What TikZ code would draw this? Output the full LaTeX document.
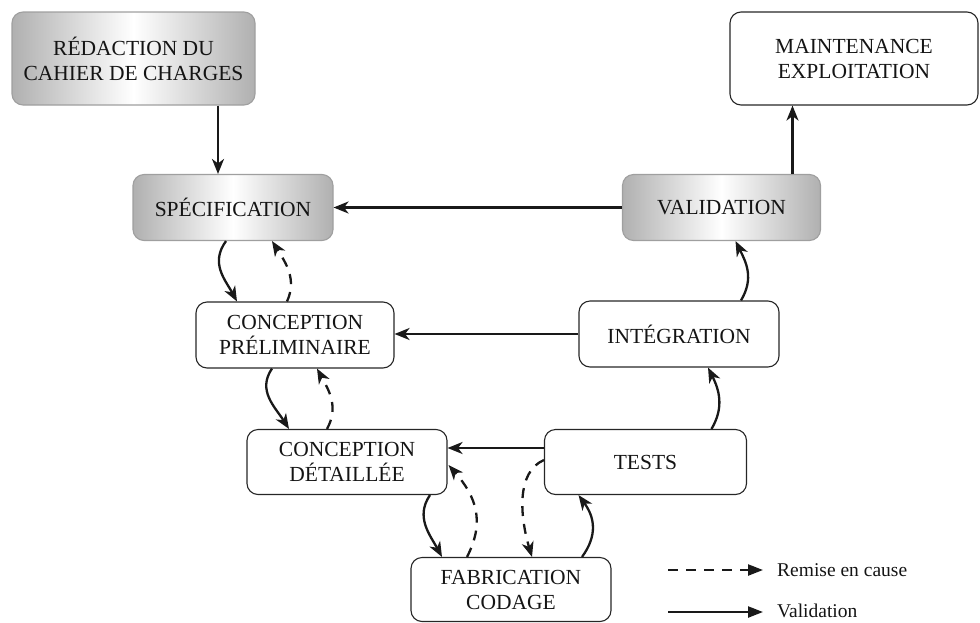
\documentclass[tikz,border=0pt]{standalone}
\usepackage{fontspec}
\setmainfont{Liberation Serif}
\newfontfamily\phasefont{Liberation Serif}
\usetikzlibrary{arrows.meta,calc}

\begin{document}
\begin{tikzpicture}[x=1pt,y=-1pt,
  box/.style={draw=black!85, line width=1.1pt, rounded corners=11pt,
    align=center, text=black!92, inner sep=0pt,
    font=\phasefont\fontsize{21.5}{25}\selectfont},
  shadedbox/.style={box, draw=gray!75,
    left color=gray!62, right color=gray!62, middle color=white},
  flow/.style={line width=2.3pt, draw=black!90,
    -{Stealth[length=15pt,width=12pt,inset=4.5pt]}},
  back/.style={flow, dash pattern=on 10pt off 8pt},
  legflow/.style={line width=2.3pt, draw=black!90,
    -{Triangle[length=15pt,width=11pt]}},
  legtext/.style={anchor=west, inner sep=0pt, text=black!92,
    font=\phasefont\fontsize{19.5}{23}\selectfont},
]
\useasboundingbox (0,0) rectangle (980,622);

% phases of the cycle
\node[shadedbox, minimum width=243pt, minimum height=93pt] (redac) at (133.5,58.5)
  {RÉDACTION DU\\CAHIER DE CHARGES};
\node[box, minimum width=248pt, minimum height=93pt] (maint) at (854,58.5)
  {MAINTENANCE\\EXPLOITATION};
\node[shadedbox, minimum width=200pt, minimum height=66pt] (spec) at (233,207.5)
  {SPÉCIFICATION};
\node[shadedbox, minimum width=198pt, minimum height=66pt] (valid) at (721.5,207.5)
  {VALIDATION};
\node[box, minimum width=198pt, minimum height=66pt] (cprel) at (295,335)
  {CONCEPTION\\PRÉLIMINAIRE};
\node[box, minimum width=200pt, minimum height=66pt] (integ) at (679,334)
  {INTÉGRATION};
\node[box, minimum width=200pt, minimum height=65pt] (cdet) at (347,462)
  {CONCEPTION\\DÉTAILLÉE};
\node[box, minimum width=202pt, minimum height=65pt] (tests) at (645.5,462)
  {TESTS};
\node[box, minimum width=200pt, minimum height=64pt] (fab) at (511,589.5)
  {FABRICATION\\CODAGE};

% straight validation links
\coordinate (a1) at ($(spec.north)+(-15,0)$);
\draw[flow] (a1 |- redac.south) -- (a1);
\coordinate (a2) at ($(valid.north)+(71,0)$);
\draw[flow] (a2) -- (a2 |- maint.south);
\draw[flow] (valid.west) -- (spec.east);
\draw[flow] (integ.west) -- (integ.west -| cprel.east);
\coordinate (a3) at ($(tests.west)+(0,-14)$);
\draw[flow] (a3) -- (a3 -| cdet.east);

% descending branch
\draw[flow] ($(spec.south)+(-7,0)$) .. controls +(-16,22) and +(-12,-22) .. ($(cprel.north)+(-58,0)$);
\draw[back] ($(cprel.north)+(-8,0)$) .. controls +(10,-22) and +(14,22) .. ($(spec.south)+(39,0)$);
\draw[flow] ($(cprel.south)+(-23,0)$) .. controls +(-15,22) and +(-14,-22) .. ($(cdet.north)+(-58,0)$);
\draw[back] ($(cdet.north)+(-20,0)$) .. controls +(12,-22) and +(12,22) .. ($(cprel.south)+(22,0)$);
\draw[flow] ($(cdet.south)+(83,0)$) .. controls +(-15,22) and +(-12,-22) .. ($(fab.north)+(-69,0)$);
\draw[back] ($(fab.north)+(-44,0)$) .. controls +(18,-35) and +(28,32) .. ($(cdet.east)+(1,3)$);

% ascending branch
\draw[back] ($(tests.west)+(0,-2)$) .. controls +(-28,12) and +(-12,-40) .. ($(fab.north)+(21,0)$);
\draw[flow] ($(fab.north)+(71,0)$) .. controls +(16,-22) and +(16,22) .. ($(tests.south)+(-67,0)$);
\draw[flow] ($(tests.north)+(66,0)$) .. controls +(13,-22) and +(11,22) .. ($(integ.south)+(29,0)$);
\draw[flow] ($(integ.north)+(62,0)$) .. controls +(13,-22) and +(11,22) .. ($(valid.south)+(14,0)$);

% legend
\node[legtext] (ltxt1) at (777,570) {Remise en cause};
\node[legtext] (ltxt2) at (777,611) {Validation};
\coordinate (l1a) at (668,570);
\coordinate (l2a) at (668,612);
\draw[legflow, dash pattern=on 10pt off 8pt] (l1a) -- ($(ltxt1.west)+(-14,0)$);
\draw[legflow] (l2a) -- ($(l2a -| ltxt2.west)+(-14,0)$);
\end{tikzpicture}
\end{document}
